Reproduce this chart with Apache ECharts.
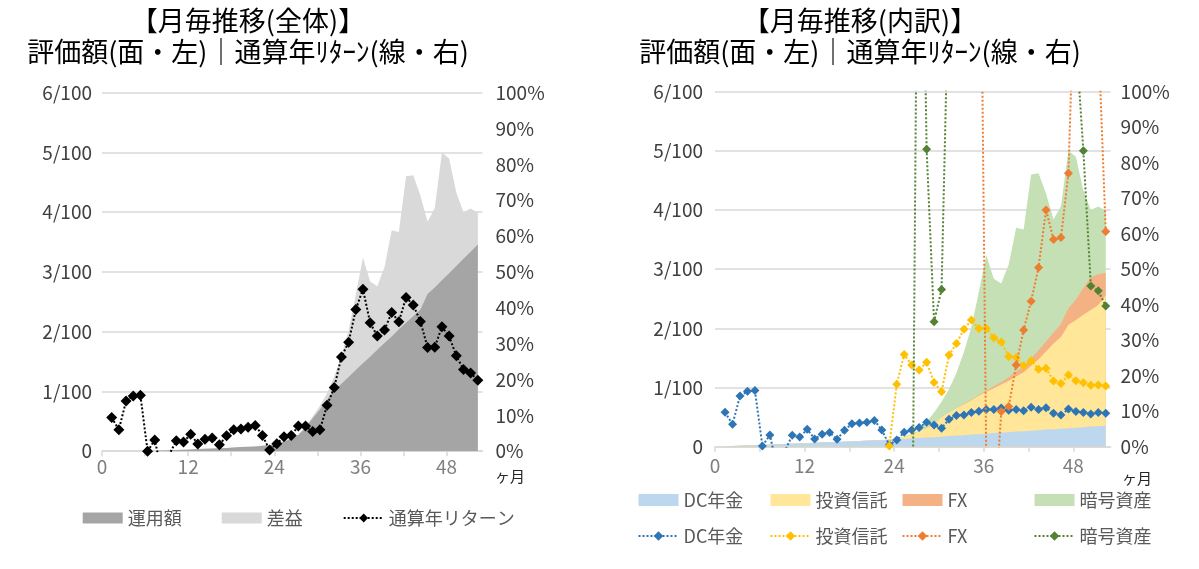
<!DOCTYPE html>
<html>
<head>
<meta charset="utf-8">
<script src="https://cdn.jsdelivr.net/npm/echarts@6/dist/echarts.min.js"></script>
<style>
html,body{margin:0;padding:0;background:#fff;}
#c{width:1199px;height:569px;}
</style>
</head>
<body>
<div id="c"></div>
<script>
// ---------- data ----------
const monthX = [1.35,2.35,3.35,4.35,5.35,6.35,7.35,8.35,9.35,10.35,11.35,12.35,13.35,14.35,15.35,16.35,17.35,18.35,19.35,20.35,21.35,22.35,23.35,24.35,25.35,26.35,27.35,28.35,29.35,30.35,31.35,32.35,33.35,34.35,35.35,36.35,37.35,38.35,39.35,40.35,41.35,42.35,43.35,44.35,45.35,46.35,47.35,48.35,49.35,50.35,51.35,52.35];

const xTickValues = [0,6,12,18,24,30,36,42,48];
const xLabelValues = [0,12,24,36,48];
const amountTickLabels = ['0','1/100','2/100','3/100','4/100','5/100','6/100'];
const pctTickLabels = ['0%','10%','20%','30%','40%','50%','60%','70%','80%','90%','100%'];

// Left chart (全体)
const invested = [0,0,0,0,0,0,0.005,0.01,0.015,0.02,0.025,0.03,0.035,0.04,0.045,0.05,0.055,0.06,0.07,0.075,0.08,0.09,0.10,
  0.13,0.16,0.21,0.27,0.39,0.55,0.70,0.86,1.02,1.13,1.24,1.36,1.47,1.58,1.70,1.81,1.92,2.04,2.15,2.26,2.37,2.63,2.74,2.86,2.98,3.10,3.22,3.34,3.46];
const gain = [0,0,0,0,0,0,0,0,0,0,0,0,0,0,0,0,0,0,0,0,0,0,0,
  0.01,0.01,0.01,0.01,0.03,0.03,0.06,0.11,0.23,0.47,0.78,1.26,1.77,1.26,1.06,1.27,1.78,1.63,2.45,2.36,1.91,1.21,1.33,2.14,1.92,1.23,0.78,0.72,0.53];
const totalReturn = [9.4,6.0,14.0,15.4,15.6,0.0,3.1,-5.8,-1.0,2.9,2.6,4.7,2.0,3.3,3.7,1.8,4.3,6.0,6.2,6.7,7.2,4.4,0.3,2.1,4.0,4.4,7.0,7.0,5.5,6.0,
  12.8,17.8,26.3,30.4,39.5,45.2,35.8,32.1,33.8,38.7,36.1,42.9,40.8,36.2,28.9,29.0,34.7,32.1,26.6,22.8,21.8,19.8];

// Right chart (内訳) amounts
const dcAmount = [0.005,0.01,0.015,0.02,0.025,0.03,0.035,0.04,0.045,0.05,0.055,0.06,0.065,0.07,0.075,0.08,0.085,0.09,0.095,0.10,0.105,0.11,0.115,
  0.12,0.13,0.14,0.145,0.155,0.16,0.17,0.18,0.19,0.195,0.205,0.21,0.22,0.23,0.24,0.245,0.255,0.26,0.27,0.28,0.29,0.295,0.305,0.31,0.32,0.33,0.34,0.345,0.355];
const fundAmount = [0,0,0,0,0,0,0,0,0,0,0,0,0,0,0,0,0,0,0,0,0,0,
  0.005,0.02,0.04,0.07,0.11,0.16,0.22,0.33,0.40,0.46,0.52,0.58,0.65,0.71,0.76,0.81,0.87,0.93,1.00,1.10,1.20,1.32,1.45,1.55,1.75,1.82,1.90,1.97,2.05,2.20];
const fxAmount = [0,0,0,0,0,0,0,0,0,0,0,0,0,0,0,0,0,0,0,0,0,0,0,0,0,0,0,0,0,0,0,0,
  0.005,0.01,0.015,0.02,0.03,0.04,0.06,0.08,0.10,0.12,0.15,0.17,0.18,0.22,0.28,0.35,0.45,0.55,0.52,0.38];
const cryptoAmount = [0,0,0,0,0,0,0,0,0,0,0,0,0,0,0,0,0,0,0,0,0,0,0,0,0,
  0.01,0.025,0.105,0.20,0.26,0.39,0.60,0.88,1.225,1.745,2.29,1.82,1.67,1.905,2.435,2.31,3.11,2.99,2.50,1.915,1.995,2.66,2.41,1.65,1.14,1.145,1.055];

// Right chart returns (%)
const dcReturn = [9.7,6.3,14.3,15.6,15.8,0.2,3.3,-6.0,-1.2,3.2,2.7,4.9,2.2,3.5,4.0,2.1,4.6,6.5,6.7,6.9,7.4,4.7,0.5,1.9,4.1,4.7,5.4,6.9,6.1,5.2,
  7.7,8.8,8.9,9.6,10.0,10.5,10.5,10.9,10.3,10.5,10.1,11.1,10.5,11.0,9.4,8.9,10.6,9.9,9.6,9.2,9.6,9.4];
const fundReturn = [null,null,null,null,null,null,null,null,null,null,null,null,null,null,null,null,null,null,null,null,null,null,
  0.2,17.6,26.0,23.0,21.6,23.8,18.1,15.5,25.8,29.1,33.1,35.7,33.3,33.3,30.7,29.5,25.4,25.1,22.8,24.2,21.8,22.1,18.5,17.8,20.2,18.6,18.0,17.3,17.4,17.1];
const fxReturn = [null,null,null,null,null,null,null,null,null,null,null,null,null,null,null,null,null,null,null,null,null,null,null,null,null,null,null,null,null,null,null,null,null,null,
  198,-6,-23,9.9,11.3,23.0,32.9,41.0,50.5,66.7,58.4,58.9,77.0,145,150,135,116,60.6];
const cryptoReturn = [null,null,null,null,null,null,null,null,null,null,null,null,null,null,null,null,null,null,null,null,null,null,null,null,null,
  -54,216,83.8,35.2,44.3,136,180,250,300,380,420,300,260,280,330,300,380,350,290,220,210,250,115,83.4,45.3,43.9,39.6];

// ---------- chart ----------
const FONT = '"Noto Sans CJK JP", "Noto Sans", sans-serif';
const pairs = arr => monthX.map((x, i) => [x, arr[i] == null ? '-' : arr[i]]);
const sumOf = (...arrs) => monthX.map((_, i) => arrs.reduce((s, a) => s + a[i], 0));
const strip = n => n.replace('#', '');

function xAxisCfg(gi, margin) {
  return {
    type: 'value', gridIndex: gi, min: 0, max: 53, interval: 6,
    axisLine: { show: true, lineStyle: { color: '#d9d9d9', width: 1.5 } },
    axisTick: { show: true, length: 5, lineStyle: { color: '#d9d9d9', width: 1.5 }, customValues: xTickValues },
    axisLabel: { customValues: xLabelValues, color: '#7f7f7f', fontSize: 19, fontFamily: FONT, margin: margin },
    splitLine: { show: false }
  };
}
function amtAxis(gi, margin) {
  return {
    type: 'value', gridIndex: gi, position: 'left', min: 0, max: 6, interval: 1,
    axisLine: { show: false }, axisTick: { show: false },
    axisLabel: { formatter: v => amountTickLabels[Math.round(v)], color: '#404040', fontSize: 19, fontFamily: FONT, margin: margin },
    splitLine: { show: true, lineStyle: { color: '#d9d9d9', width: 1.5 } }
  };
}
function pctAxis(gi, margin) {
  return {
    type: 'value', gridIndex: gi, position: 'right', min: 0, max: 100, interval: 10,
    axisLine: { show: false }, axisTick: { show: false },
    axisLabel: { formatter: v => pctTickLabels[Math.round(v / 10)], color: '#404040', fontSize: 19, fontFamily: FONT, margin: margin },
    splitLine: { show: false }
  };
}
function area(name, xi, yi, data, color, z) {
  return {
    name, type: 'line', xAxisIndex: xi, yAxisIndex: yi, data: pairs(data),
    color, itemStyle: { color }, lineStyle: { width: 0, color },
    areaStyle: { color, opacity: 1 }, symbol: 'none', showSymbol: false,
    clip: true, z, emphasis: { disabled: true }, silent: true
  };
}
function retLine(name, xi, yi, data, color, size, z) {
  return {
    name, type: 'line', xAxisIndex: xi, yAxisIndex: yi, data: pairs(data),
    color, itemStyle: { color }, lineStyle: { color, width: 2, type: [2, 2] },
    symbol: 'diamond', symbolSize: size, showSymbol: true, connectNulls: false,
    clip: true, z, emphasis: { disabled: true }, silent: true
  };
}

const legendText = { color: '#595959', fontSize: 18, fontFamily: FONT };
const rightCols = [
  ['DC年金', 637.5], ['投資信託', 769.5], ['FX', 901.5], ['暗号資産', 1033.5]
];

const titleFont = '27px ' + FONT;
const option = {
  animation: false,
  backgroundColor: '#fff',
  grid: [
    { left: 102, top: 92.7, width: 380.5, height: 358.5, outerBoundsMode: 'none', containLabel: false },
    { left: 715, top: 91.7, width: 395.6, height: 355, outerBoundsMode: 'none', containLabel: false }
  ],
  xAxis: [xAxisCfg(0, 6), xAxisCfg(1, 10)],
  yAxis: [amtAxis(0, 10), pctAxis(0, 13), amtAxis(1, 12), pctAxis(1, 10)],
  legend: [
    {
      left: 82.7, top: 509, padding: 0, orient: 'horizontal', itemGap: 40, itemWidth: 40, itemHeight: 11,
      textStyle: legendText, selectedMode: false,
      data: [{ name: '運用額', icon: 'rect' }, { name: '差益', icon: 'rect' }, { name: '通算年リターン' }]
    }
  ].concat(rightCols.map(([n, x]) => ({
    left: x, top: 491, padding: 0, orient: 'vertical', itemGap: 18, itemWidth: 40, itemHeight: 12,
    textStyle: legendText, selectedMode: false, formatter: strip,
    data: [{ name: n, icon: 'rect' }, { name: n + '#' }]
  }))),
  graphic: [
    { type: 'text', x: 248, y: 21, style: { text: '【月毎推移(全体)】', font: titleFont, fill: '#000', align: 'center', verticalAlign: 'middle' } },
    { type: 'text', x: 248, y: 52, style: { text: '評価額(面・左)｜通算年ﾘﾀｰﾝ(線・右)', font: titleFont, fill: '#000', align: 'center', verticalAlign: 'middle' } },
    { type: 'text', x: 860, y: 21, style: { text: '【月毎推移(内訳)】', font: titleFont, fill: '#000', align: 'center', verticalAlign: 'middle' } },
    { type: 'text', x: 860, y: 52, style: { text: '評価額(面・左)｜通算年ﾘﾀｰﾝ(線・右)', font: titleFont, fill: '#000', align: 'center', verticalAlign: 'middle' } },
    { type: 'text', x: 495, y: 476, style: { text: 'ヶ月', font: '15px ' + FONT, fill: '#262626', align: 'left', verticalAlign: 'middle' } },
    { type: 'text', x: 1122, y: 478, style: { text: 'ヶ月', font: '15px ' + FONT, fill: '#262626', align: 'left', verticalAlign: 'middle' } }
  ],
  series: [
    area('差益', 0, 0, sumOf(invested, gain), '#d9d9d9', 1),
    area('運用額', 0, 0, invested, '#a5a5a5', 2),
    retLine('通算年リターン', 0, 1, totalReturn, '#000000', 11, 5),

    area('暗号資産', 1, 2, sumOf(dcAmount, fundAmount, fxAmount, cryptoAmount), '#c5e0b4', 1),
    area('FX', 1, 2, sumOf(dcAmount, fundAmount, fxAmount), '#f4b183', 2),
    area('投資信託', 1, 2, sumOf(dcAmount, fundAmount), '#ffe699', 3),
    area('DC年金', 1, 2, dcAmount, '#bdd7ee', 4),
    retLine('DC年金#', 1, 3, dcReturn, '#2e75b6', 9, 5),
    retLine('投資信託#', 1, 3, fundReturn, '#ffc000', 9, 6),
    retLine('FX#', 1, 3, fxReturn, '#ed7d31', 9, 7),
    retLine('暗号資産#', 1, 3, cryptoReturn, '#548235', 9, 8)
  ]
};

const chart = echarts.init(document.getElementById('c'), null, { renderer: 'canvas' });
chart.setOption(option);
</script>
</body>
</html>
